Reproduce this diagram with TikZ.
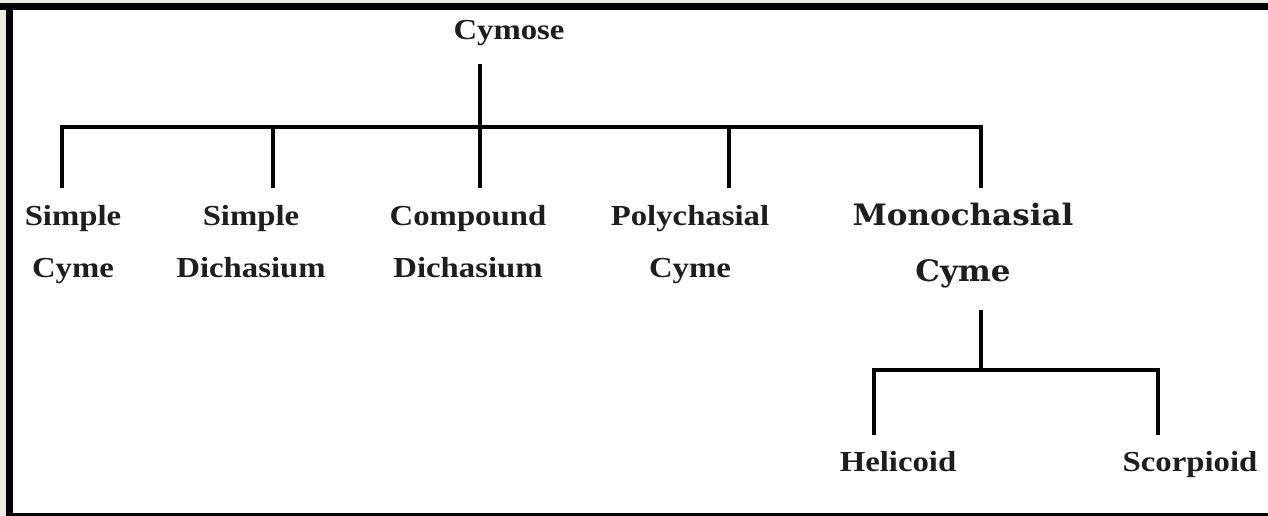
\documentclass[tikz,border=0pt]{standalone}
\usepackage{fontspec}
\newfontfamily\labfont[FakeStretch=1.13]{Liberation Serif Bold}
\newfontfamily\monofontx[FakeStretch=1.05]{DejaVu Serif Bold}
\definecolor{beige}{RGB}{236,233,222}
\definecolor{ink}{RGB}{30,30,30}
\tikzset{
  lab/.style={inner sep=0pt, anchor=base, align=center, text=ink,
    font=\labfont\fontsize{16.5}{30}\selectfont},
  bigl/.style={inner sep=0pt, anchor=base, align=center, text=ink,
    font=\monofontx\fontsize{16.8}{32.3}\selectfont},
  conn/.style={line width=1.8pt, black}
}
\begin{document}
\begin{tikzpicture}[x=0.02cm, y=-0.02cm]
\useasboundingbox (0,0) rectangle (1268,516);
% frame
\fill[beige] (0,0) rectangle (1268,516);
\fill[white] (13,10) rectangle (1268,513);
\fill[black] (0,3) rectangle (1268,10);
\fill[black] (5.5,3) rectangle (13,516);
\fill[black] (13,513) rectangle (1268,516);
% nodes (base anchor = baseline of the last line)
\node[lab] (cymose) at (509,40) {Cymose};
\node[lab] (scyme) at (73,278) {Simple\\Cyme};
\node[lab] (sdich) at (251,278) {Simple\\Dichasium};
\node[lab] (cdich) at (468,278) {Compound\\Dichasium};
\node[lab] (poly) at (690,278) {Polychasial\\Cyme};
\node[bigl] (mono) at (963,282) {Monochasial\\Cyme};
\node[lab] (heli) at (898,472) {Helicoid};
\node[lab] (scor) at (1190,472) {Scorpioid};
% junctions
\coordinate (top) at (480,64);
\coordinate (j1) at (62,127);
\coordinate (j2) at (273,127);
\coordinate (j3) at (480,188);
\coordinate (j4) at (729,127);
\coordinate (j5) at (981,127);
\coordinate (mtop) at (981,310);
\coordinate (mbar) at (981,370);
\coordinate (hj) at (874,370);
\coordinate (sj) at (1158,370);
% connectors
\draw[conn] (top) -- (j3);
\draw[conn] (j1) ++(0,61) -- (j1) -- (j5) -- ++(0,61);
\draw[conn] (j2) -- ++(0,61);
\draw[conn] (j4) -- ++(0,61);
\draw[conn] (mtop) -- (mbar);
\draw[conn] (hj) ++(0,65) -- (hj) -- (sj) -- ++(0,65);
\end{tikzpicture}
\end{document}
